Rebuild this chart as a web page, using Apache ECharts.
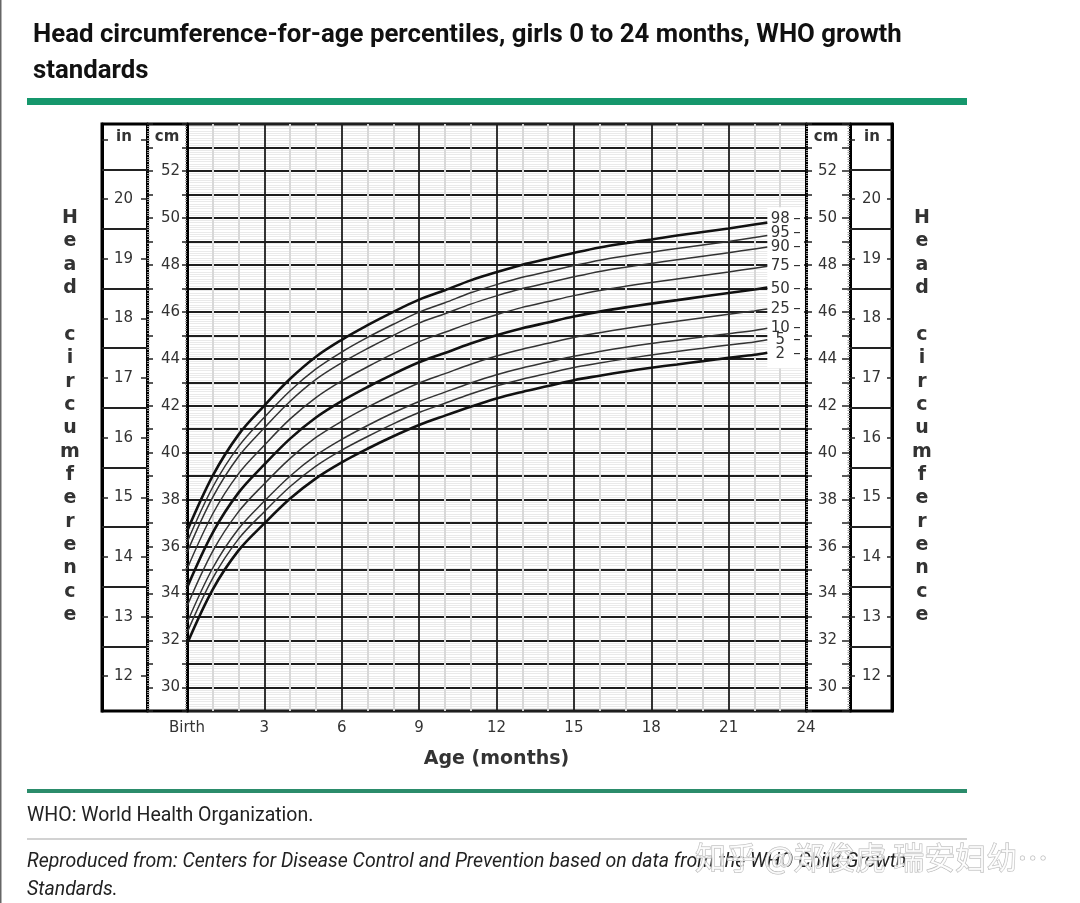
<!DOCTYPE html>
<html><head><meta charset="utf-8">
<script src="https://cdn.jsdelivr.net/npm/echarts@6.0.0/dist/echarts.min.js"></script>
<style>html,body{margin:0;padding:0;background:#fff}#c{width:1080px;height:903px}</style>
</head><body><div id="c"></div>
<script>
// ---- data ----
const months = [0,1,2,3,4,5,6,7,8,9,10,11,12,13,14,15,16,17,18,19,20,21,22,22.5];
const p2  = [31.85,34.18,35.84,36.99,38.05,38.91,39.59,40.17,40.70,41.18,41.58,41.96,42.31,42.59,42.84,43.09,43.28,43.46,43.62,43.76,43.90,44.04,44.17,44.26];
const p5  = [32.33,34.66,36.33,37.49,38.56,39.43,40.11,40.69,41.23,41.71,42.11,42.50,42.85,43.13,43.38,43.63,43.82,44.00,44.16,44.31,44.45,44.59,44.72,44.81];
const p10 = [32.75,35.09,36.76,37.94,39.01,39.89,40.57,41.16,41.70,42.18,42.58,42.97,43.32,43.61,43.86,44.11,44.31,44.49,44.65,44.79,44.93,45.07,45.21,45.30];
const p25 = [33.46,35.81,37.49,38.68,39.76,40.65,41.34,41.94,42.48,42.97,43.37,43.77,44.12,44.41,44.66,44.91,45.11,45.29,45.45,45.60,45.75,45.90,46.04,46.12];
const p50 = [34.25,36.60,38.30,39.50,40.60,41.50,42.20,42.80,43.35,43.85,44.25,44.65,45.00,45.30,45.55,45.80,46.01,46.19,46.35,46.50,46.65,46.80,46.95,47.03];
const p75 = [35.04,37.40,39.11,40.32,41.44,42.35,43.06,43.66,44.22,44.73,45.13,45.53,45.88,46.19,46.44,46.69,46.91,47.09,47.25,47.40,47.55,47.70,47.86,47.94];
const p90 = [35.75,38.11,39.84,41.06,42.19,43.12,43.83,44.44,45.00,45.52,45.92,46.33,46.68,46.99,47.24,47.49,47.72,47.90,48.06,48.22,48.37,48.52,48.68,48.76];
const p95 = [36.18,38.54,40.27,41.51,42.64,43.57,44.29,44.91,45.47,45.99,46.39,46.81,47.16,47.47,47.72,47.97,48.20,48.38,48.54,48.70,48.85,49.00,49.17,49.25];
const p98 = [36.65,39.02,40.77,42.01,43.15,44.09,44.81,45.43,46.00,46.52,46.92,47.34,47.69,48.01,48.26,48.51,48.74,48.92,49.08,49.25,49.40,49.55,49.72,49.80];
const percentileNames = ['2','5','10','25','50','75','90','95','98'];
const inchTicks = [12,13,14,15,16,17,18,19,20,21];
const inchLabels = [12,13,14,15,16,17,18,19,20];
const halfInchLines = [12.5,13.5,14.5,15.5,16.5,17.5,18.5,19.5,20.5];
const birthLabel = 'Birth';

const titleText = 'Head circumference-for-age percentiles, girls 0 to 24 months, WHO growth\nstandards';
const yTitle = 'Head circumference';
const xTitle = 'Age (months)';
const note1 = 'WHO: World Health Organization.';
const note2 = 'Reproduced from: Centers for Disease Control and Prevention based on data from the WHO Child Growth';
const note3 = 'Standards.';
const watermark = '知乎 @郑俊虎 瑞安妇幼…';

// ---- chart ----
const CM = 2.54;
const FONT = 'DejaVu Sans';
const chart = echarts.init(document.getElementById('c'));

function yAx(o) {
  return Object.assign({
    type: 'value', gridIndex: 0, min: 29, max: 54, interval: 1,
    axisLine: {show: false}, axisTick: {show: false}, axisLabel: {show: false},
    splitLine: {show: false}, minorTick: {show: false}, minorSplitLine: {show: false}
  }, o);
}
const tickStyle = {color: '#222', width: 1.5};
const minorTickStyle = {color: '#999', width: 1};
const frameLine = {show: true, lineStyle: {color: '#000', width: 3}};
const lblStyle = {show: true, fontSize: 15, color: '#333', fontFamily: FONT};
const evenCm = v => (v % 2 === 0 && v < 54) ? String(v) : '';
const toIn = v => String(Math.round(v / CM));

const yAxes = [
  yAx({position: 'left', offset: 0, axisLine: frameLine,
    axisTick: {show: true, length: 5, lineStyle: tickStyle},
    minorTick: {show: true, splitNumber: 10, length: 2, lineStyle: minorTickStyle},
    axisLabel: Object.assign({}, lblStyle, {margin: 7, formatter: evenCm}),
    splitLine: {show: true, lineStyle: {color: '#1e1e1e', width: 1.8}},
    minorSplitLine: {show: true, lineStyle: {color: '#eaeaea', width: 1}}}),
  yAx({position: 'left', offset: 40, axisLine: frameLine,
    axisTick: {show: true, inside: true, length: 6, lineStyle: tickStyle},
    minorTick: {show: true, splitNumber: 10, length: 2.5, lineStyle: minorTickStyle}}),
  yAx({position: 'left', offset: 40,
    axisTick: {show: true, length: 6, customValues: inchTicks.map(i => i * CM), lineStyle: tickStyle},
    axisLabel: Object.assign({}, lblStyle, {margin: 14, customValues: inchLabels.map(i => i * CM), formatter: toIn})}),
  yAx({position: 'left', offset: 85, axisLine: frameLine,
    axisTick: {show: true, inside: true, length: 45, customValues: halfInchLines.map(i => i * CM), lineStyle: {color: '#222', width: 2}}}),
  yAx({position: 'left', offset: 85,
    axisTick: {show: true, inside: true, length: 6, customValues: inchTicks.map(i => i * CM), lineStyle: tickStyle}}),
  yAx({position: 'right', offset: 0, z: 5, axisLine: frameLine,
    axisTick: {show: true, length: 6, lineStyle: tickStyle},
    minorTick: {show: true, splitNumber: 10, length: 2, lineStyle: minorTickStyle},
    axisLabel: Object.assign({}, lblStyle, {margin: 12, formatter: evenCm})}),
  yAx({position: 'right', offset: 44, axisLine: frameLine,
    axisTick: {show: true, inside: true, length: 8, lineStyle: tickStyle},
    minorTick: {show: true, splitNumber: 10, length: 2.5, lineStyle: minorTickStyle}}),
  yAx({position: 'right', offset: 44,
    axisTick: {show: true, length: 5, customValues: inchTicks.map(i => i * CM), lineStyle: tickStyle},
    axisLabel: Object.assign({}, lblStyle, {margin: 12, customValues: inchLabels.map(i => i * CM), formatter: toIn})}),
  yAx({position: 'right', offset: 86, axisLine: frameLine,
    axisTick: {show: true, inside: true, length: 42, customValues: halfInchLines.map(i => i * CM), lineStyle: {color: '#222', width: 2}}}),
  yAx({position: 'right', offset: 86,
    axisTick: {show: true, inside: true, length: 5, customValues: inchTicks.map(i => i * CM), lineStyle: tickStyle}}),
  {type: 'value', gridIndex: 1, show: false}
];

const xAxes = [
  {type: 'value', gridIndex: 0, min: 0, max: 24, interval: 3, position: 'bottom',
    axisLine: {show: false}, axisTick: {show: false},
    axisLabel: Object.assign({}, lblStyle, {margin: 10, showMinLabel: true, showMaxLabel: true,
      formatter: v => v === 0 ? birthLabel : String(v)}),
    splitLine: {show: true, lineStyle: {color: '#1e1e1e', width: 1.8}},
    minorTick: {show: false, splitNumber: 3},
    minorSplitLine: {show: true, lineStyle: {color: '#d8d8d8', width: 2}},
    name: xTitle, nameLocation: 'middle', nameGap: 39,
    nameTextStyle: {fontSize: 19, fontWeight: 'bold', color: '#333', fontFamily: FONT}},
  {type: 'value', gridIndex: 1, show: false}
];

const seriesArrays = [p2, p5, p10, p25, p50, p75, p90, p95, p98];
const thickSet = {'2': true, '50': true, '98': true};
const labelDy = {'2': 1, '5': 0, '10': 0, '25': 0, '50': 1, '75': 0, '90': 0, '95': -2, '98': -4};

const series = percentileNames.map((name, k) => {
  const arr = seriesArrays[k];
  const thick = !!thickSet[name];
  const s = {
    type: 'line', name: name, xAxisIndex: 0, yAxisIndex: 0,
    data: months.map((m, i) => [m, arr[i]]),
    smooth: 0.35, symbol: 'none', silent: true,
    lineStyle: {color: thick ? '#111' : '#333', width: thick ? 2.6 : 1.5},
    endLabel: {show: true, distance: 2, offset: [0, labelDy[name]],
      formatter: () => '{n|' + name + '}{d|–}',
      rich: {
        n: {width: 22, align: 'right', fontSize: 15, color: '#333', fontFamily: FONT},
        d: {fontSize: 15, color: '#333', fontFamily: FONT, padding: [0, 0, 0, 2]}
      }}
  };
  if (name === '98') {
    s.markArea = {silent: true, itemStyle: {color: '#fff'},
      data: [[{coord: [22.5, 43.6]}, {coord: [23.93, 50.45]}]]};
  }
  return s;
});

const vText = yTitle.split('').join('\n');
const graphics = [
  {type: 'rect', shape: {x: 27, y: 98, width: 940, height: 7}, style: {fill: '#15976c'}},
  {type: 'rect', shape: {x: 27, y: 789, width: 940, height: 4}, style: {fill: '#2b8c6b'}},
  {type: 'rect', shape: {x: 27, y: 838, width: 940, height: 2}, style: {fill: '#d2d2d2'}},
  {type: 'rect', shape: {x: 0, y: 0, width: 1.5, height: 903}, style: {fill: '#666'}},
  {type: 'text', x: 124, y: 137, style: {text: 'in', font: 'bold 15px "DejaVu Sans"', fill: '#333', align: 'center', verticalAlign: 'middle'}},
  {type: 'text', x: 167, y: 137, style: {text: 'cm', font: 'bold 15px "DejaVu Sans"', fill: '#333', align: 'center', verticalAlign: 'middle'}},
  {type: 'text', x: 826, y: 137, style: {text: 'cm', font: 'bold 15px "DejaVu Sans"', fill: '#333', align: 'center', verticalAlign: 'middle'}},
  {type: 'text', x: 872, y: 137, style: {text: 'in', font: 'bold 15px "DejaVu Sans"', fill: '#333', align: 'center', verticalAlign: 'middle'}},
  {type: 'text', x: 70, y: 206.5, style: {text: vText, font: 'bold 19px "DejaVu Sans"', fill: '#333', align: 'center', verticalAlign: 'top', lineHeight: 23.35}},
  {type: 'text', x: 922, y: 206.5, style: {text: vText, font: 'bold 19px "DejaVu Sans"', fill: '#333', align: 'center', verticalAlign: 'top', lineHeight: 23.35}},
  {type: 'text', x: 27, y: 816, style: {text: note1, font: '19.5px Roboto', fill: '#222', align: 'left', verticalAlign: 'middle'}},
  {type: 'text', x: 27, y: 862, style: {text: note2, font: 'italic 19.5px Roboto', fill: '#222', align: 'left', verticalAlign: 'middle'}},
  {type: 'text', x: 27, y: 890, style: {text: note3, font: 'italic 19.5px Roboto', fill: '#222', align: 'left', verticalAlign: 'middle'}},
  {type: 'text', x: 695, y: 857, z: 100, style: {text: watermark, font: '31px "Noto Sans CJK SC"', fill: 'rgba(255,255,255,0.75)', stroke: '#b5b5b5', lineWidth: 1, align: 'left', verticalAlign: 'middle'}}
];

chart.setOption({
  animation: false,
  backgroundColor: '#fff',
  title: {text: titleText, left: 33, top: 18, padding: 0,
    textStyle: {fontFamily: 'Roboto', fontWeight: 'bold', fontSize: 25.8, lineHeight: 36, color: '#111'}},
  grid: [
    {left: 187, top: 124, width: 619, height: 587, show: false},
    {left: 102, top: 124, width: 790, height: 587, show: true, borderColor: '#000', borderWidth: 3, backgroundColor: 'transparent'}
  ],
  xAxis: xAxes,
  yAxis: yAxes,
  series: series,
  graphic: graphics
});
</script></body></html>
